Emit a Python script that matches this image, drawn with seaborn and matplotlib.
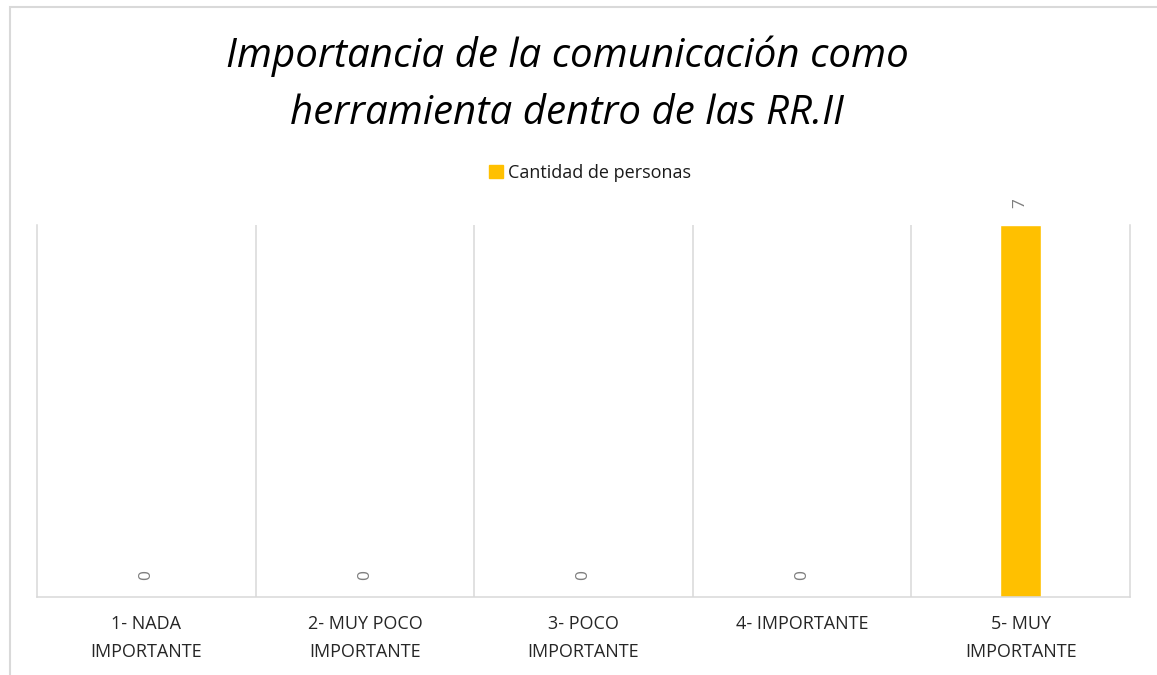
import matplotlib
matplotlib.use("Agg")
import matplotlib.pyplot as plt
import matplotlib.patches as mpatches
import pandas as pd
import seaborn as sns

# ── Data ───────────────────────────────────────────────────────────────────────
categories = [
    "1- NADA\nIMPORTANTE",
    "2- MUY POCO\nIMPORTANTE",
    "3- POCO\nIMPORTANTE",
    "4- IMPORTANTE",
    "5- MUY\nIMPORTANTE",
]
values = [0, 0, 0, 0, 7]
series_name = "Cantidad de personas"
title = "Importancia de la comunicación como\nherramienta dentro de las RR.II"

BAR_COLOR = "#FFC000"
GRID_COLOR = "#D9D9D9"

sns.set_theme(style="white")
plt.rcParams["font.family"] = ["Open Sans", "DejaVu Sans"]

df = pd.DataFrame({"categoria": categories, "valor": values})

fig = plt.figure(figsize=(11.57, 6.75), dpi=100)
fig.patch.set_facecolor("white")
ax = fig.add_axes([37 / 1157, 1 - 597 / 675, (1130 - 37) / 1157, (597 - 225) / 675])

sns.barplot(data=df, x="categoria", y="valor", color=BAR_COLOR,
            width=0.19, ax=ax, saturation=1)

ax.set_xlim(-0.5, len(categories) - 0.5)
ax.set_ylim(0, max(values))
ax.set_xlabel("")
ax.set_ylabel("")
ax.set_yticks([])

# category separators as vertical gridlines
ax.set_xticks([i + 0.5 for i in range(len(categories) - 1)], minor=True)
ax.grid(axis="x", which="minor", color=GRID_COLOR, linewidth=1.1)
ax.tick_params(axis="x", which="both", length=0, pad=13)
plt.setp(ax.get_xticklabels(), fontsize=13, color="#262626", linespacing=1.7)

for side in ["left", "right", "bottom"]:
    ax.spines[side].set_color(GRID_COLOR)
    ax.spines[side].set_linewidth(1.1)
ax.spines["top"].set_visible(False)

# value labels (rotated, like the original)
for i, v in enumerate(values):
    ax.annotate(str(v), xy=(i, v), xytext=(0, 16), textcoords="offset points",
                ha="center", va="center", rotation=90, fontsize=12.5,
                color="#7F7F7F", annotation_clip=False)

# title & legend
fig.text(0.49, 1 - 85 / 675, title, ha="center", va="center", fontsize=29,
         style="italic", color="#000000", linespacing=1.55)
handle = mpatches.Patch(color=BAR_COLOR, label=series_name)
fig.legend(handles=[handle], loc="center", bbox_to_anchor=(0.51, 1 - 173 / 675),
           frameon=False, fontsize=13, handlelength=0.75, handleheight=0.75,
           handletextpad=0.3, labelcolor="#1a1a1a")

# outer chart border
border = mpatches.Rectangle((10 / 1157, -0.05), 1.2, 1 - 7 / 675 + 0.05,
                            transform=fig.transFigure, fill=False,
                            edgecolor=GRID_COLOR, linewidth=1.5)
fig.patches.append(border)

fig.savefig("out.png", dpi=100)
plt.close(fig)
